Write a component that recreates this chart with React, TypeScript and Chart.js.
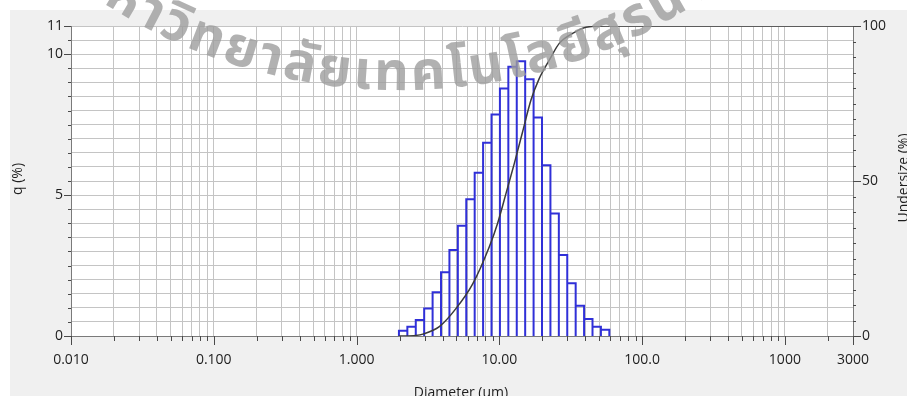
import React, { useEffect, useRef } from 'react';
import { Chart, registerables } from 'chart.js';

Chart.register(...registerables);

// ---- data ----
const binEdges = [1.981, 2.269, 2.599, 2.976, 3.409, 3.905, 4.472, 5.122, 5.867, 6.72, 7.696, 8.815, 10.097, 11.565, 13.246, 15.172, 17.377, 19.904, 22.797, 26.111, 29.907, 34.255, 39.234, 44.938, 51.471, 58.953];
const qPercent = [0.19, 0.33, 0.57, 0.98, 1.55, 2.26, 3.05, 3.91, 4.85, 5.79, 6.86, 7.86, 8.78, 9.55, 9.75, 9.11, 7.75, 6.06, 4.35, 2.87, 1.87, 1.07, 0.6, 0.33, 0.22];
const undersizeDiameter = [1.98, 2.6, 2.91, 3.8, 4.98, 6.51, 8.51, 9.73, 11.14, 12.74, 14.56, 16.66, 19.05, 22.38, 26.3, 32.6, 40.4, 55, 3000];
const undersizePercent = [0, 0.2, 0.6, 3.0, 8.9, 16.8, 28.8, 36.4, 46.0, 55.7, 65.9, 76.1, 83.1, 89.0, 94.4, 97.6, 99.6, 100, 100];

const xLabelValues = [0.01, 0.1, 1, 10, 100, 1000, 3000];
const xLabelTexts = ['0.010', '0.100', '1.000', '10.00', '100.0', '1000', '3000'];
const qLabelValues = [0, 5, 10, 11];
const undersizeLabelValues = [0, 50, 100];

const xTitle = 'Diameter (um)';
const yTitle = 'q (%)';
const y2Title = 'Undersize (%)';
const watermarkText = 'มหาวิทยาลัยเทคโนโลยีสุรนารี';

const FONT = "'Open Sans', 'DejaVu Sans', sans-serif";
const THAI_FONT = "'Noto Sans Thai', 'Tahoma', 'DejaVu Sans', sans-serif";
const X_MIN = 0.01;
const X_MAX = 3000;

function logGridValues(): number[] {
  const out: number[] = [];
  for (let d = -2; d <= 3; d++) {
    for (let m = 1; m <= 9; m++) {
      const v = Number((m * Math.pow(10, d)).toPrecision(3));
      if (v >= X_MIN - 1e-12 && v <= X_MAX + 1e-9) out.push(v);
    }
  }
  return out;
}
const xGridValues = logGridValues();

function xLabelFor(v: number): string {
  for (let i = 0; i < xLabelValues.length; i++) {
    if (Math.abs(Math.log10(v) - Math.log10(xLabelValues[i])) < 1e-6) return xLabelTexts[i];
  }
  return '';
}
function isXMajor(v: number): boolean {
  return xLabelFor(v) !== '';
}

function thaiClusters(s: string): string[] {
  const out: string[] = [];
  for (const ch of s) {
    const c = ch.charCodeAt(0);
    const combining = c === 0x0e31 || (c >= 0x0e34 && c <= 0x0e3a) || (c >= 0x0e47 && c <= 0x0e4e);
    if (combining && out.length) out[out.length - 1] += ch;
    else out.push(ch);
  }
  return out;
}

const decorPlugin = {
  id: 'decor',
  beforeDraw(chart: any) {
    const { ctx, chartArea: a, width, height } = chart;
    ctx.save();
    ctx.fillStyle = '#ffffff';
    ctx.fillRect(0, 0, width, height);
    ctx.fillStyle = '#f0f0f0';
    ctx.fillRect(10, 10, width - 10, height - 10);
    ctx.fillStyle = '#ffffff';
    ctx.fillRect(a.left, a.top, a.right - a.left, a.bottom - a.top);
    ctx.restore();
  },
  afterDraw(chart: any) {
    const { ctx, chartArea: a } = chart;
    const sx = chart.scales.x;
    const sy = chart.scales.y;
    const sy2 = chart.scales.y2;
    ctx.save();
    ctx.strokeStyle = '#4a4a4a';
    ctx.lineWidth = 1;
    ctx.beginPath();
    xGridValues.forEach((v) => {
      const px = Math.round(sx.getPixelForValue(v)) + 0.5;
      ctx.moveTo(px, a.bottom);
      ctx.lineTo(px, a.bottom + (isXMajor(v) ? 9 : 5));
    });
    for (let i = 0; i <= 22; i++) {
      const v = i * 0.5;
      const py = Math.round(sy.getPixelForValue(v)) + 0.5;
      ctx.moveTo(a.left - (qLabelValues.includes(v) ? 7 : 3), py);
      ctx.lineTo(a.left, py);
    }
    for (let i = 0; i <= 20; i++) {
      const v = i * 5;
      const py = Math.round(sy2.getPixelForValue(v)) + 0.5;
      ctx.moveTo(a.right, py);
      ctx.lineTo(a.right + (undersizeLabelValues.includes(v) ? 8 : 3), py);
    }
    ctx.stroke();

    // axis titles
    ctx.fillStyle = '#1e1e1e';
    ctx.font = `14px ${FONT}`;
    ctx.textAlign = 'center';
    ctx.textBaseline = 'top';
    ctx.fillText(xTitle, 461, 386);
    ctx.textBaseline = 'middle';
    ctx.save();
    ctx.translate(18, 179);
    ctx.rotate(-Math.PI / 2);
    ctx.fillText(yTitle, 0, 0);
    ctx.restore();
    ctx.save();
    ctx.translate(904.5, 178);
    ctx.rotate(-Math.PI / 2);
    ctx.fillText(y2Title, 0, 0);
    ctx.restore();

    // watermark on an arc
    const cx = 400;
    const R = 550;
    const cy = 90 - R;
    const spacing = 3;
    ctx.font = `bold 54px ${THAI_FONT}`;
    ctx.fillStyle = 'rgba(158,158,158,0.8)';
    ctx.textAlign = 'center';
    ctx.textBaseline = 'alphabetic';
    const clusters = thaiClusters(watermarkText);
    const widths = clusters.map((c) => ctx.measureText(c).width);
    // anchor the 4th cluster ("วิ") at x ≈ 170
    const anchorArc = R * Math.asin((170 - cx) / R);
    let before = 0;
    for (let i = 0; i < 3; i++) before += widths[i] + spacing;
    let acc = anchorArc - widths[3] / 2 - before;
    clusters.forEach((c, i) => {
      const mid = acc + widths[i] / 2;
      const th = mid / R;
      ctx.save();
      ctx.translate(cx + R * Math.sin(th), cy + R * Math.cos(th));
      ctx.rotate(-th);
      ctx.fillText(c, 0, 0);
      ctx.restore();
      acc += widths[i] + spacing;
    });
    ctx.restore();
  },
};

export default function App() {
  const ref = useRef<HTMLCanvasElement | null>(null);

  useEffect(() => {
    document.body.style.margin = '0';
    const canvas = ref.current;
    if (!canvas) return;

    const histPoints: { x: number; y: number }[] = [];
    for (let i = 0; i < qPercent.length; i++) {
      histPoints.push({ x: binEdges[i], y: 0 });
      histPoints.push({ x: binEdges[i], y: qPercent[i] });
      histPoints.push({ x: binEdges[i + 1], y: qPercent[i] });
      histPoints.push({ x: binEdges[i + 1], y: 0 });
    }
    const curvePoints = undersizeDiameter.map((d, i) => ({ x: d, y: undersizePercent[i] }));

    const tickFont = { family: FONT, size: 14 };
    const gridColor = '#c4c4c4';
    const axisColor = '#7a7a7a';

    const chart = new Chart(canvas, {
      type: 'scatter',
      data: {
        datasets: [
          {
            label: 'q (%)',
            data: histPoints,
            xAxisID: 'x',
            yAxisID: 'y',
            showLine: true,
            borderColor: '#3030d8',
            borderWidth: 2,
            pointRadius: 0,
            fill: false,
            tension: 0,
            order: 2,
          },
          {
            label: 'Undersize (%)',
            data: curvePoints,
            xAxisID: 'x',
            yAxisID: 'y2',
            showLine: true,
            borderColor: '#3a3a3a',
            borderWidth: 1.5,
            pointRadius: 0,
            fill: false,
            cubicInterpolationMode: 'monotone',
            order: 1,
          },
        ],
      } as any,
      options: {
        responsive: false,
        animation: false,
        devicePixelRatio: 1,
        layout: { padding: { top: 26, left: 0, right: 0, bottom: 0 } },
        plugins: { legend: { display: false }, tooltip: { enabled: false } },
        scales: {
          x: {
            type: 'logarithmic',
            position: 'bottom',
            min: X_MIN,
            max: X_MAX,
            afterBuildTicks: (s: any) => {
              s.ticks = xGridValues.map((v) => ({ value: v }));
            },
            ticks: {
              autoSkip: false,
              maxRotation: 0,
              minRotation: 0,
              padding: 16,
              color: '#1e1e1e',
              font: tickFont,
              callback: (v: any) => xLabelFor(Number(v)),
            },
            grid: { color: gridColor, drawTicks: false },
            border: { color: axisColor },
            afterFit: (s: any) => {
              s.height = 60;
            },
          },
          y: {
            type: 'linear',
            position: 'left',
            min: 0,
            max: 11,
            afterBuildTicks: (s: any) => {
              const t = [];
              for (let i = 0; i <= 22; i++) t.push({ value: i * 0.5 });
              s.ticks = t;
            },
            ticks: {
              autoSkip: false,
              padding: 8,
              color: '#1e1e1e',
              font: tickFont,
              callback: (v: any) => (qLabelValues.includes(Number(v)) ? String(v) : ''),
            },
            grid: { color: gridColor, drawTicks: false },
            border: { color: axisColor },
            afterFit: (s: any) => {
              s.width = 71;
            },
          },
          y2: {
            type: 'linear',
            position: 'right',
            min: 0,
            max: 100,
            afterBuildTicks: (s: any) => {
              const t = [];
              for (let i = 0; i <= 20; i++) t.push({ value: i * 5 });
              s.ticks = t;
            },
            ticks: {
              autoSkip: false,
              padding: 9,
              color: '#1e1e1e',
              font: tickFont,
              callback: (v: any) => (undersizeLabelValues.includes(Number(v)) ? String(v) : ''),
            },
            grid: { drawOnChartArea: false, drawTicks: false },
            border: { color: axisColor },
            afterFit: (s: any) => {
              s.width = 54;
            },
          },
        },
      } as any,
      plugins: [decorPlugin],
    });

    return () => chart.destroy();
  }, []);

  return <canvas ref={ref} width={907} height={396} style={{ display: 'block' }} />;
}
